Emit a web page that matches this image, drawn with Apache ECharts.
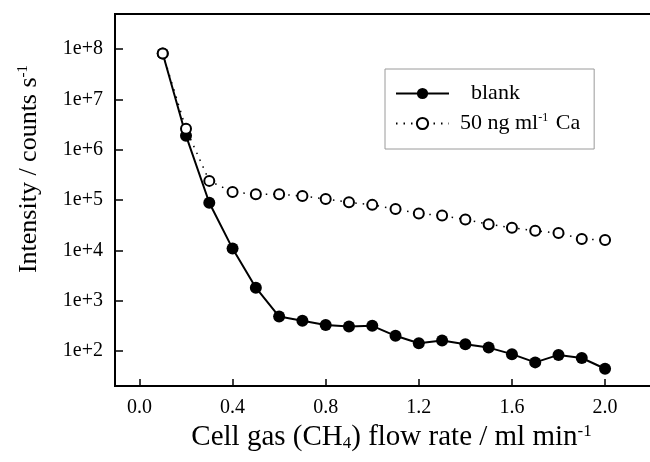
<!DOCTYPE html>
<html>
<head>
<meta charset="utf-8">
<script src="https://cdn.jsdelivr.net/npm/echarts@6/dist/echarts.min.js"></script>
<style>
  html, body { margin: 0; padding: 0; background: #fff; }
  #chart { width: 650px; height: 462px; }
</style>
</head>
<body>
<div id="chart"></div>
<script>
// flow rate (ml/min)
const flowRates = [0.1, 0.2, 0.3, 0.4, 0.5, 0.6, 0.7, 0.8, 0.9, 1.0,
                   1.1, 1.2, 1.3, 1.4, 1.5, 1.6, 1.7, 1.8, 1.9, 2.0];
// blank intensity (counts/s)
const blankValues = [8.2e7, 1.9e6, 8.8e4, 1.08e4, 1.8e3, 480, 395, 328, 304, 314,
                     199, 142, 160, 136, 116, 86, 59, 83, 72, 44];
// 50 ng/ml Ca intensity (counts/s)
const caValues = [8.2e7, 2.6e6, 2.4e5, 1.44e5, 1.3e5, 1.3e5, 1.2e5, 1.05e5, 9.0e4, 8.0e4,
                  6.6e4, 5.4e4, 4.9e4, 4.1e4, 3.3e4, 2.8e4, 2.45e4, 2.2e4, 1.68e4, 1.6e4];
// tick labels
const xTicks = [0.0, 0.4, 0.8, 1.2, 1.6, 2.0];
const yTicks = [1e2, 1e3, 1e4, 1e5, 1e6, 1e7, 1e8];

const serif = 'Liberation Serif';
const myChart = echarts.init(document.getElementById('chart'));

const toPairs = (vals) => flowRates.map((x, i) => [x, vals[i]]);

const option = {
  backgroundColor: '#ffffff',
  animation: false,
  grid: {
    left: 115,
    width: 545,
    top: 14,
    bottom: 76,
    outerBoundsMode: 'none',
    show: true,
    borderColor: '#000',
    borderWidth: 2
  },
  legend: {
    orient: 'vertical',
    left: 385,
    top: 69,
    padding: [13, 14, 14, 10],
    itemGap: 7,
    itemWidth: 53,
    itemHeight: 14,
    backgroundColor: '#fff',
    borderColor: '#9a9a9a',
    borderWidth: 1,
    data: ['blank', 'ca'],
    formatter: function (name) {
      if (name === 'blank') return '  blank';
      return '50 ng ml{sup|-1} Ca';
    },
    textStyle: {
      fontFamily: serif,
      fontSize: 22,
      lineHeight: 23,
      color: '#000',
      padding: [0, 0, 0, 6],
      rich: {
        sup: { fontFamily: serif, fontSize: 12, lineHeight: 23, verticalAlign: 'top', color: '#000', padding: [0, 2, 8, 0] }
      }
    }
  },
  xAxis: {
    type: 'value',
    min: -0.105,
    max: 2.236,
    name: 'Cell gas (CH{sub|4}) flow rate / ml min{sup|-1}',
    nameLocation: 'middle',
    nameGap: 33,
    nameTextStyle: {
      fontFamily: serif,
      fontSize: 29,
      color: '#000',
      padding: [0, 0, 0, 8],
      rich: {
        sub: { fontFamily: serif, fontSize: 17, color: '#000', padding: [12, 0, 0, 0] },
        sup: { fontFamily: serif, fontSize: 17, color: '#000', padding: [0, 0, 12, 0] }
      }
    },
    axisLine: { lineStyle: { color: '#000', width: 2 } },
    axisTick: {
      inside: true,
      length: 7,
      customValues: xTicks,
      lineStyle: { color: '#000', width: 1.5 }
    },
    axisLabel: {
      customValues: xTicks,
      fontFamily: serif,
      fontSize: 20,
      color: '#000',
      margin: 12,
      formatter: (v) => v.toFixed(1)
    },
    splitLine: { show: false }
  },
  yAxis: {
    type: 'log',
    logBase: 10,
    min: 20,
    max: 5e8,
    name: 'Intensity / counts s{sup|-1}',
    nameLocation: 'middle',
    nameGap: 72,
    nameTextStyle: {
      fontFamily: serif,
      fontSize: 26,
      color: '#000',
      padding: [0, 0, 0, 62],
      rich: {
        sup: { fontFamily: serif, fontSize: 15, color: '#000', padding: [0, 0, 12, 0] }
      }
    },
    axisLine: { show: true, onZero: false, lineStyle: { color: '#000', width: 2 } },
    axisTick: {
      inside: true,
      length: 8,
      customValues: yTicks,
      lineStyle: { color: '#000', width: 1.5 }
    },
    axisLabel: {
      customValues: yTicks,
      fontFamily: serif,
      fontSize: 20,
      color: '#000',
      margin: 12,
      formatter: (v) => '1e+' + Math.round(Math.log10(v))
    },
    splitLine: { show: false }
  },
  series: [
    {
      name: 'blank',
      type: 'line',
      data: toPairs(blankValues),
      symbol: 'circle',
      symbolSize: 12,
      itemStyle: { color: '#000' },
      lineStyle: { color: '#000', width: 2 },
      z: 2
    },
    {
      name: 'ca',
      type: 'line',
      data: toPairs(caValues),
      symbol: 'circle',
      symbolSize: 10,
      itemStyle: { color: '#fff', borderColor: '#000', borderWidth: 2 },
      lineStyle: { color: '#000', width: 1.5, type: [1.5, 6] },
      z: 3
    }
  ]
};

myChart.setOption(option);
</script>
</body>
</html>
